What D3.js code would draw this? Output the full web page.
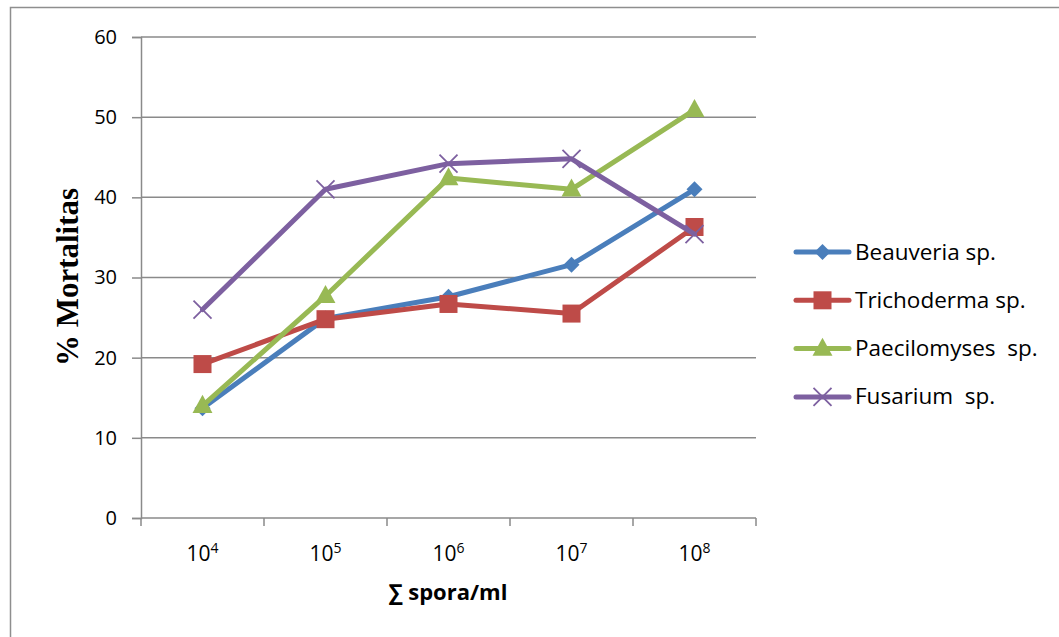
<!DOCTYPE html>
<html>
<head>
<meta charset="utf-8">
<script src="https://cdn.jsdelivr.net/npm/d3@7"></script>
<style>
  html, body { margin: 0; padding: 0; background: #fff; }
  svg { display: block; }
  .legend-label { white-space: pre; }
</style>
</head>
<body>
<div id="chart"></div>
<script>
// Spore concentration (exponent of 10) per category
const exponents = ["4", "5", "6", "7", "8"];

// Mortality (%) per fungus at each concentration
const beauveria    = [13.7, 24.9, 27.6, 31.6, 41.0];
const trichoderma  = [19.2, 24.8, 26.7, 25.5, 36.3];
const paecilomyses = [14.0, 27.7, 42.4, 41.0, 50.9];
const fusarium     = [26.0, 41.0, 44.2, 44.8, 35.4];

const seriesNames = ["Beauveria sp.", "Trichoderma sp.", "Paecilomyses  sp.", "Fusarium  sp."];
const yTicks = [0, 10, 20, 30, 40, 50, 60];

const series = [
  { name: seriesNames[0], values: beauveria,    color: "#4a7ebb", marker: "diamond" },
  { name: seriesNames[1], values: trichoderma,  color: "#be4b48", marker: "square" },
  { name: seriesNames[2], values: paecilomyses, color: "#98b954", marker: "triangle" },
  { name: seriesNames[3], values: fusarium,     color: "#7d60a0", marker: "cross" }
];

const W = 1059, H = 637;
const plot = { left: 141, right: 756, top: 37, bottom: 518 };
const sansFont = "'Open Sans', 'Liberation Sans', sans-serif";

const svg = d3.select("#chart").append("svg")
  .attr("width", W).attr("height", H);

// Outer chart frame
svg.append("rect")
  .attr("x", 10.5).attr("y", 7.5)
  .attr("width", W + 20).attr("height", H + 20)
  .attr("fill", "none").attr("stroke", "#8e8e8e").attr("stroke-width", 1.5);

const x = d3.scaleBand().domain(exponents).range([plot.left, plot.right]);
const y = d3.scaleLinear().domain([0, 60]).range([plot.bottom, plot.top]);

// Horizontal gridlines
svg.append("g").selectAll("line")
  .data(yTicks.filter(d => d > 0))
  .join("line")
  .attr("x1", plot.left).attr("x2", plot.right)
  .attr("y1", d => y(d)).attr("y2", d => y(d))
  .attr("stroke", "#8a8a8a").attr("stroke-width", 1.5);

// Y axis
const yAxis = svg.append("g")
  .attr("transform", `translate(${plot.left},0)`)
  .call(d3.axisLeft(y).tickValues(yTicks).tickSize(9).tickPadding(15));
yAxis.select(".domain").attr("stroke", "#8a8a8a").attr("stroke-width", 1.5);
yAxis.selectAll(".tick line").attr("stroke", "#8a8a8a").attr("stroke-width", 1.5);
yAxis.selectAll(".tick text")
  .attr("font-family", sansFont)
  .attr("font-size", 20).attr("fill", "#000");

// X axis: ticks on category boundaries
const xBoundaries = exponents.map(e => x(e)).concat([x(exponents[exponents.length - 1]) + x.bandwidth()]);
const xAxisG = svg.append("g");
xAxisG.append("line")
  .attr("x1", plot.left).attr("x2", plot.right)
  .attr("y1", plot.bottom).attr("y2", plot.bottom)
  .attr("stroke", "#8a8a8a").attr("stroke-width", 1.5);
xAxisG.selectAll("line.tick").data(xBoundaries).join("line")
  .attr("class", "tick")
  .attr("x1", d => d).attr("x2", d => d)
  .attr("y1", plot.bottom).attr("y2", plot.bottom + 8)
  .attr("stroke", "#8a8a8a").attr("stroke-width", 1.5);

const xLabels = xAxisG.selectAll("text.xl").data(exponents).join("text")
  .attr("class", "xl")
  .attr("x", d => x(d) + x.bandwidth() / 2)
  .attr("y", 561)
  .attr("text-anchor", "middle")
  .attr("font-family", sansFont)
  .attr("font-size", 21).attr("fill", "#000");
xLabels.append("tspan").text("10");
xLabels.append("tspan").attr("dy", -8).attr("font-size", 14).text(d => d);

// Axis titles
svg.append("text")
  .attr("x", 448).attr("y", 600)
  .attr("text-anchor", "middle")
  .attr("font-family", sansFont)
  .attr("font-weight", "bold").attr("font-size", 22).attr("fill", "#000")
  .text("∑ spora/ml");

svg.append("text")
  .attr("transform", "translate(78,277) rotate(-90)")
  .attr("text-anchor", "middle")
  .attr("font-family", "'Liberation Serif', 'DejaVu Serif', serif")
  .attr("font-weight", "bold").attr("font-size", 31).attr("fill", "#000")
  .text("% Mortalitas");

// Marker shapes
function drawMarker(g, type, color, cx, cy, s) {
  if (type === "diamond") {
    g.append("path")
      .attr("d", `M${cx},${cy - s}L${cx + s},${cy}L${cx},${cy + s}L${cx - s},${cy}Z`)
      .attr("fill", color);
  } else if (type === "square") {
    g.append("rect")
      .attr("x", cx - s).attr("y", cy - s).attr("width", 2 * s).attr("height", 2 * s)
      .attr("fill", color);
  } else if (type === "triangle") {
    g.append("path")
      .attr("d", `M${cx},${cy - s * 1.15}L${cx + s * 1.05},${cy + s * 0.75}L${cx - s * 1.05},${cy + s * 0.75}Z`)
      .attr("fill", color);
  } else if (type === "cross") {
    g.append("path")
      .attr("d", `M${cx - s},${cy - s}L${cx + s},${cy + s}M${cx - s},${cy + s}L${cx + s},${cy - s}`)
      .attr("stroke", color).attr("stroke-width", 1.8).attr("fill", "none");
  }
}

const markerSize = { diamond: 8, square: 9, triangle: 9.5, cross: 9 };

const line = d3.line()
  .x((d, i) => x(exponents[i]) + x.bandwidth() / 2)
  .y(d => y(d));

series.forEach(s => {
  const g = svg.append("g");
  g.append("path")
    .datum(s.values)
    .attr("d", line)
    .attr("fill", "none")
    .attr("stroke", s.color)
    .attr("stroke-width", 5)
    .attr("stroke-linejoin", "round")
    .attr("stroke-linecap", "round");
  s.values.forEach((v, i) => {
    drawMarker(g, s.marker, s.color, x(exponents[i]) + x.bandwidth() / 2, y(v), markerSize[s.marker]);
  });
});

// Legend
const legend = svg.append("g");
series.forEach((s, i) => {
  const ly = 252 + i * 48.3;
  const g = legend.append("g");
  g.append("line")
    .attr("x1", 796).attr("x2", 849).attr("y1", ly).attr("y2", ly)
    .attr("stroke", s.color).attr("stroke-width", 5).attr("stroke-linecap", "round");
  drawMarker(g, s.marker, s.color, 822.5, ly, markerSize[s.marker]);
  g.append("text")
    .attr("class", "legend-label")
    .attr("x", 855).attr("y", ly + 7.5)
    .attr("font-family", sansFont)
    .attr("font-size", 22.5).attr("fill", "#000")
    .text(s.name);
});
</script>
</body>
</html>
